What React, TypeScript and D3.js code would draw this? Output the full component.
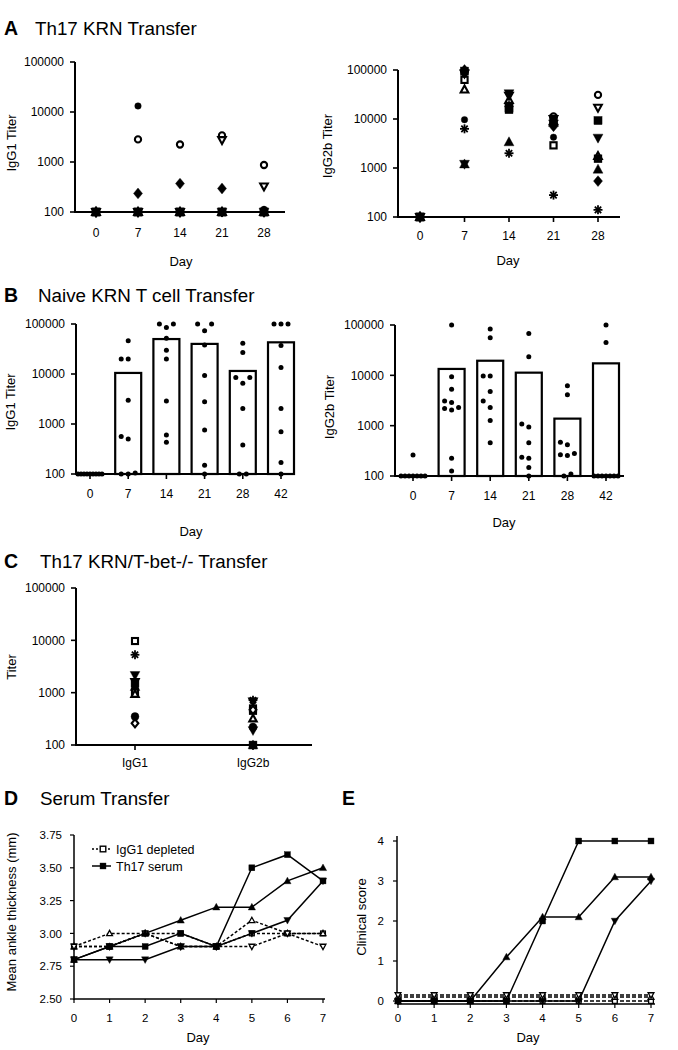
import React from 'react';
import * as d3 from 'd3';

const FONT = '"Liberation Sans", Arial, Helvetica, sans-serif';

type Sym = 'circle' | 'ocircle' | 'square' | 'osquare' | 'tri' | 'otri' | 'dtri' | 'odtri' | 'diamond' | 'odiamond' | 'star';

// ---------- Panel A: Th17 KRN Transfer (individual mice) ----------
const daysA = [0, 7, 14, 21, 28];
const symbolsA: Sym[] = ['ocircle', 'osquare', 'otri', 'odtri', 'circle', 'diamond', 'square', 'tri', 'dtri', 'star'];
const igg1A: number[][] = [
  [100, 2830, 2240, 3400, 870],   // ocircle
  [100, 100, 100, 100, 100],      // osquare
  [100, 100, 100, 100, 100],      // otri
  [100, 100, 100, 2750, 325],     // odtri
  [100, 13200, 100, 100, 113],    // circle
  [100, 235, 370, 295, 100],      // diamond
  [100, 100, 100, 100, 100],      // square
  [100, 100, 100, 100, 100],      // tri
  [100, 100, 100, 100, 100],      // dtri
  [100, 100, 100, 100, 100],      // star
];
const igg2bA: number[][] = [
  [100, 90000, 20000, 11300, 31000], // ocircle
  [100, 63000, 15500, 2900, 1550],   // osquare
  [100, 40000, 24500, 9000, 1750],   // otri
  [100, 85000, 30000, 10000, 17000], // odtri
  [100, 9700, 17000, 4250, 1600],    // circle
  [100, 100000, 18000, 7100, 540],   // diamond
  [100, 95000, 16700, 10000, 9300],  // square
  [100, 1200, 3400, 8500, 940],      // tri
  [100, 1200, 33000, 8000, 4100],    // dtri
  [100, 6300, 2000, 280, 140],       // star
];

// ---------- Panel B: Naive KRN T cell Transfer ----------
const daysB = ['0', '7', '14', '21', '28', '42'];
const barsB1 = [100, 10500, 50000, 40000, 11500, 43000];
const dotsB1: number[][] = [
  [100, 100, 100, 100, 100, 100, 100, 100, 100],
  [46000, 20000, 20000, 3000, 560, 500, 100, 100, 105],
  [100000, 85000, 100000, 52000, 30000, 20000, 2900, 600, 430],
  [100000, 100000, 73000, 38000, 9300, 2800, 760, 150, 100],
  [41000, 27000, 8500, 8500, 6500, 2050, 380, 100, 100],
  [100000, 100000, 100000, 37000, 13500, 2050, 700, 170, 100],
];
const barsB2 = [100, 13400, 19500, 11300, 1380, 17300];
const dotsB2: number[][] = [
  [260, 100, 100, 100, 100, 100, 100, 100],
  [100000, 9400, 5300, 3100, 2900, 2300, 2050, 2200, 225, 126],
  [83000, 56000, 9700, 9700, 4800, 3100, 2300, 1260, 460],
  [68000, 23400, 940, 1080, 460, 225, 235, 148, 100],
  [6200, 4100, 420, 470, 265, 255, 280, 110, 100],
  [100000, 45000, 100, 100, 100, 100, 100, 100, 100],
];

// ---------- Panel C: Th17 KRN/T-bet-/- Transfer ----------
const isotypesC = ['IgG1', 'IgG2b'];
const symbolsC: Sym[] = ['square', 'tri', 'circle', 'dtri', 'star', 'osquare', 'odtri', 'osquare', 'otri', 'odiamond'];
const igg1C = [1500, 1300, 350, 2150, 5300, 9700, 1600, 1040, 940, 260];
const igg2bC = [100, 100, 220, 190, 720, 500, 680, 450, 320, 470];

// ---------- Panel D: Serum transfer, ankle thickness ----------
const daysDE = [0, 1, 2, 3, 4, 5, 6, 7];
const ankleDepSquare = [2.9, 2.9, 3.0, 3.0, 2.9, 3.0, 3.0, 3.0];
const ankleDepTri = [2.9, 3.0, 3.0, 2.9, 2.9, 3.1, 3.0, 3.0];
const ankleDepDtri = [2.9, 2.9, 3.0, 2.9, 2.9, 2.9, 3.0, 2.9];
const ankleTh17Square = [2.8, 2.9, 2.9, 3.0, 2.9, 3.5, 3.6, 3.4];
const ankleTh17Tri = [2.8, 2.9, 3.0, 3.1, 3.2, 3.2, 3.4, 3.5];
const ankleTh17Dtri = [2.8, 2.8, 2.8, 2.9, 2.9, 3.0, 3.1, 3.4];
const ankleTicks = [2.5, 2.75, 3.0, 3.25, 3.5, 3.75];

// ---------- Panel E: Clinical score ----------
const scoreDepSquare = [0, 0, 0, 0, 0, 0, 0, 0];
const scoreDepTri = [0.1, 0.1, 0.1, 0.1, 0.1, 0.1, 0.1, 0.1];
const scoreDepDtri = [0.15, 0.15, 0.15, 0.15, 0.15, 0.15, 0.15, 0.15];
const scoreTh17Square = [0, 0, 0, 0, 2, 4, 4, 4];
const scoreTh17Tri = [0, 0, 0, 1.1, 2.1, 2.1, 3.1, 3.1];
const scoreTh17Dtri = [0, 0, 0, 0, 0, 0, 2, 3];
const scoreTicks = [0, 1, 2, 3, 4];

const titerTicks = [100, 1000, 10000, 100000];
const fmtInt = d3.format('d');

const TICK_FS = 12;
const LABEL_FS = 13;

function Marker({ sym, x, y, s = 4, sw = 1.8 }: { sym: Sym; x: number; y: number; s?: number; sw?: number }) {
  const open = sym.startsWith('o');
  const base = open ? sym.slice(1) : sym;
  const fill = open ? '#fff' : '#000';
  const st = open ? { stroke: '#000', strokeWidth: sw } : { stroke: '#000', strokeWidth: 0.4 };
  const r = open ? s - sw / 2 : s;
  switch (base) {
    case 'circle':
      return <circle cx={x} cy={y} r={r * 0.9} fill={fill} {...st} />;
    case 'square':
      return <rect x={x - r * 0.9} y={y - r * 0.9} width={r * 1.8} height={r * 1.8} fill={fill} {...st} />;
    case 'tri':
      return <polygon points={`${x},${y - r * 1.15} ${x - r * 1.1},${y + r * 0.85} ${x + r * 1.1},${y + r * 0.85}`} fill={fill} {...st} />;
    case 'dtri':
      return <polygon points={`${x},${y + r * 1.15} ${x - r * 1.1},${y - r * 0.85} ${x + r * 1.1},${y - r * 0.85}`} fill={fill} {...st} />;
    case 'diamond':
      return <polygon points={`${x},${y - r * 1.2} ${x + r},${y} ${x},${y + r * 1.2} ${x - r},${y}`} fill={fill} {...st} />;
    case 'star': {
      const angs = [0, 45, 90, 135];
      return (
        <g stroke="#000" strokeWidth={1.8}>
          {angs.map(a => {
            const rad = (a * Math.PI) / 180;
            const dx = Math.cos(rad) * s, dy = Math.sin(rad) * s;
            return <line key={a} x1={x - dx} y1={y - dy} x2={x + dx} y2={y + dy} />;
          })}
        </g>
      );
    }
  }
  return null;
}

type Tick = { v: number; label: string };

function Axes(p: {
  yAxisX: number; yTop: number; yBot: number;
  xAxisY: number; xLeft: number; xRight: number;
  yTicks: Tick[]; xTicks: Tick[];
  xLabelY: number; yLabelX: number; sw: number; fs: number; tick?: number;
}) {
  const t = p.tick ?? 5;
  return (
    <g fontSize={p.fs} fill="#000">
      <line x1={p.yAxisX} x2={p.yAxisX} y1={p.yTop} y2={p.yBot} stroke="#000" strokeWidth={p.sw} />
      <line x1={p.xLeft} x2={p.xRight} y1={p.xAxisY} y2={p.xAxisY} stroke="#000" strokeWidth={p.sw} />
      {p.yTicks.map((k, i) => (
        <g key={'y' + i}>
          <line x1={p.yAxisX - t} x2={p.yAxisX} y1={k.v} y2={k.v} stroke="#000" strokeWidth={p.sw * 0.8} />
          <text x={p.yLabelX} y={k.v} dy="0.36em" textAnchor="end">{k.label}</text>
        </g>
      ))}
      {p.xTicks.map((k, i) => (
        <g key={'x' + i}>
          <line x1={k.v} x2={k.v} y1={p.xAxisY} y2={p.xAxisY + t} stroke="#000" strokeWidth={p.sw * 0.8} />
          <text x={k.v} y={p.xLabelY} textAnchor="middle">{k.label}</text>
        </g>
      ))}
    </g>
  );
}

function VLabel({ x, y, text, fs = LABEL_FS }: { x: number; y: number; text: string; fs?: number }) {
  return (
    <text transform={`translate(${x},${y}) rotate(-90)`} textAnchor="middle" fontSize={fs}>{text}</text>
  );
}

function Title({ x, y, letter, text, tx }: { x: number; y: number; letter: string; text: string; tx: number }) {
  return (
    <g>
      <text x={x} y={y} fontSize={19.5} fontWeight="bold">{letter}</text>
      <text x={tx} y={y} fontSize={18.8}>{text}</text>
    </g>
  );
}

// simple beeswarm offsets
function swarm(values: number[], yf: (v: number) => number): number[] {
  const idx = values.map((_, i) => i).sort((a, b) => values[a] - values[b]);
  const offs = new Array(values.length).fill(0);
  const floorIdx = idx.filter(i => values[i] <= 110);
  const n = floorIdx.length;
  const sp = n > 1 ? Math.min(7, 24 / (n - 1)) : 0;
  floorIdx.forEach((i, k) => (offs[i] = (k - (n - 1) / 2) * sp));
  const placed: [number, number][] = floorIdx.map(i => [offs[i], yf(values[i])]);
  const cands = [0, -7, 7, -14, 14, -21, 21];
  for (const i of idx) {
    if (values[i] <= 110) continue;
    const y = yf(values[i]);
    for (const c of cands) {
      if (placed.every(([px, py]) => Math.hypot(px - c, py - y) >= 7)) {
        offs[i] = c;
        placed.push([c, y]);
        break;
      }
    }
  }
  return offs;
}

const drawPriority: Record<string, number> = {
  ocircle: 0, osquare: 0, otri: 0, odtri: 0, odiamond: 0,
  star: 1, diamond: 2, tri: 3, dtri: 4, square: 5, circle: 6,
};
function drawOrder(syms: Sym[]) {
  return syms.map((_, i) => i).sort((a, b) => drawPriority[syms[a]] - drawPriority[syms[b]]);
}

function ScatterA({ data, x, y }: { data: number[][]; x: d3.ScaleLinear<number, number>; y: d3.ScaleLogarithmic<number, number> }) {
  const order = drawOrder(symbolsA);
  return (
    <g>
      {order.map(m =>
        data[m].map((v, j) => (
          <Marker key={m + '-' + j} sym={symbolsA[m]} x={x(daysA[j])} y={y(v)} s={symbolsA[m] === 'circle' ? 3.6 : 4.5} sw={2.1} />
        ))
      )}
    </g>
  );
}

function BarsB({ bars, dots, x, y }: { bars: number[]; dots: number[][]; x: d3.ScalePoint<string>; y: d3.ScaleLogarithmic<number, number> }) {
  const bw = 26;
  return (
    <g>
      {bars.map((b, i) => (
        <rect key={'b' + i} x={(x(daysB[i]) as number) - bw / 2} y={y(b)} width={bw} height={y(100) - y(b)} fill="#fff" stroke="#000" strokeWidth={2.2} />
      ))}
      {dots.map((arr, i) => {
        const offs = swarm(arr, y);
        return arr.map((v, j) => (
          <circle key={i + '-' + j} cx={(x(daysB[i]) as number) + offs[j]} cy={y(v)} r={2.5} fill="#000" />
        ));
      })}
    </g>
  );
}

export default function App() {
  // Panel A scales
  const xA1 = d3.scaleLinear().domain([0, 28]).range([96, 264]);
  const yA1 = d3.scaleLog().domain([100, 100000]).range([212, 62]);
  const xA2 = d3.scaleLinear().domain([0, 28]).range([420, 598]);
  const yA2 = d3.scaleLog().domain([100, 100000]).range([217, 70]);
  // Panel B
  const xB1 = d3.scalePoint<string>().domain(daysB).range([90, 281]);
  const yB1 = d3.scaleLog().domain([100, 100000]).range([474, 324]);
  const xB2 = d3.scalePoint<string>().domain(daysB).range([413, 606]);
  const yB2 = d3.scaleLog().domain([100, 100000]).range([476, 325]);
  // Panel C
  const xC = d3.scalePoint<string>().domain(isotypesC).range([135, 253]);
  const yC = d3.scaleLog().domain([100, 100000]).range([745, 588]);
  // Panel D
  const xD = d3.scaleLinear().domain([0, 7]).range([74, 323]);
  const yD = d3.scaleLinear().domain([2.5, 3.75]).range([999, 835]);
  // Panel E
  const xE = d3.scaleLinear().domain([0, 7]).range([398, 651]);
  const yE = d3.scaleLinear().domain([0, 4]).range([1001, 841]);

  const logTicks = (y: (v: number) => number) => titerTicks.map(t => ({ v: y(t), label: fmtInt(t) }));

  const lineD = d3.line<number>().x((_, i) => xD(daysDE[i])).y(v => yD(v));
  const lineE = d3.line<number>().x((_, i) => xE(daysDE[i])).y(v => yE(v));

  const seriesD: { data: number[]; sym: Sym; dashed: boolean }[] = [
    { data: ankleDepSquare, sym: 'osquare', dashed: true },
    { data: ankleDepTri, sym: 'otri', dashed: true },
    { data: ankleDepDtri, sym: 'odtri', dashed: true },
    { data: ankleTh17Dtri, sym: 'dtri', dashed: false },
    { data: ankleTh17Tri, sym: 'tri', dashed: false },
    { data: ankleTh17Square, sym: 'square', dashed: false },
  ];
  const seriesE: { data: number[]; sym: Sym; dashed: boolean }[] = [
    { data: scoreDepSquare, sym: 'osquare', dashed: true },
    { data: scoreDepTri, sym: 'otri', dashed: true },
    { data: scoreDepDtri, sym: 'odtri', dashed: true },
    { data: scoreTh17Dtri, sym: 'dtri', dashed: false },
    { data: scoreTh17Tri, sym: 'tri', dashed: false },
    { data: scoreTh17Square, sym: 'square', dashed: false },
  ];

  const orderC = drawOrder(symbolsC);

  return (
    <svg width={678} height={1050} style={{ position: 'absolute', left: 0, top: 0 }} fontFamily={FONT}>
      <rect width={678} height={1050} fill="#fff" />

      {/* ---------- A ---------- */}
      <Title x={4} y={35} letter="A" text="Th17 KRN Transfer" tx={35} />
      <Axes yAxisX={75} yTop={62} yBot={213} xAxisY={212} xLeft={74} xRight={285}
        yTicks={logTicks(yA1)} xTicks={daysA.map(d => ({ v: xA1(d), label: String(d) }))}
        xLabelY={237} yLabelX={64} sw={2} fs={TICK_FS} />
      <ScatterA data={igg1A} x={xA1} y={yA1} />
      <text x={181} y={266} textAnchor="middle" fontSize={LABEL_FS}>Day</text>
      <VLabel x={16} y={143} text="IgG1 Titer" />

      <Axes yAxisX={398} yTop={70} yBot={218} xAxisY={217} xLeft={397} xRight={620}
        yTicks={logTicks(yA2)} xTicks={daysA.map(d => ({ v: xA2(d), label: String(d) }))}
        xLabelY={240} yLabelX={387} sw={2} fs={TICK_FS} />
      <ScatterA data={igg2bA} x={xA2} y={yA2} />
      <text x={508} y={265} textAnchor="middle" fontSize={LABEL_FS}>Day</text>
      <VLabel x={332} y={146} text="IgG2b Titer" />

      {/* ---------- B ---------- */}
      <Title x={4} y={302} letter="B" text="Naive KRN T cell Transfer" tx={38} />
      <BarsB bars={barsB1} dots={dotsB1} x={xB1} y={yB1} />
      <Axes yAxisX={76} yTop={324} yBot={475} xAxisY={474} xLeft={75} xRight={292}
        yTicks={logTicks(yB1)} xTicks={daysB.map(d => ({ v: xB1(d) as number, label: d }))}
        xLabelY={498} yLabelX={65} sw={2} fs={TICK_FS} />
      <text x={191} y={536} textAnchor="middle" fontSize={LABEL_FS}>Day</text>
      <VLabel x={15} y={402} text="IgG1 Titer" />

      <BarsB bars={barsB2} dots={dotsB2} x={xB2} y={yB2} />
      <Axes yAxisX={395} yTop={325} yBot={477} xAxisY={476} xLeft={394} xRight={624}
        yTicks={logTicks(yB2)} xTicks={daysB.map(d => ({ v: xB2(d) as number, label: d }))}
        xLabelY={500} yLabelX={384} sw={2} fs={TICK_FS} />
      <text x={504} y={527} textAnchor="middle" fontSize={LABEL_FS}>Day</text>
      <VLabel x={334} y={407} text="IgG2b Titer" />

      {/* ---------- C ---------- */}
      <Title x={4} y={568} letter="C" text="Th17 KRN/T-bet-/- Transfer" tx={40} />
      <Axes yAxisX={76} yTop={588} yBot={746} xAxisY={745} xLeft={75} xRight={312}
        yTicks={logTicks(yC)} xTicks={isotypesC.map(d => ({ v: xC(d) as number, label: d }))}
        xLabelY={767} yLabelX={65} sw={2} fs={TICK_FS} />
      {orderC.map(m => (
        <g key={'c' + m}>
          <Marker sym={symbolsC[m]} x={xC('IgG1') as number} y={yC(igg1C[m])} s={4.4} sw={2.1} />
          <Marker sym={symbolsC[m]} x={xC('IgG2b') as number} y={yC(igg2bC[m])} s={4.4} sw={2.1} />
        </g>
      ))}
      <VLabel x={16} y={667} text="Titer" />

      {/* ---------- D ---------- */}
      <Title x={4} y={805} letter="D" text="Serum Transfer" tx={40} />
      <Axes yAxisX={74} yTop={835} yBot={1000} xAxisY={999} xLeft={74} xRight={325}
        yTicks={ankleTicks.map(t => ({ v: yD(t), label: t.toFixed(2) }))}
        xTicks={daysDE.map(d => ({ v: xD(d), label: String(d) }))}
        xLabelY={1022} yLabelX={62} sw={1.5} fs={11.5} tick={4} />
      {seriesD.map((s, i) => (
        <path key={'dl' + i} d={lineD(s.data) || ''} fill="none" stroke="#000" strokeWidth={1.5} strokeDasharray={s.dashed ? '3,2' : undefined} />
      ))}
      {seriesD.map((s, i) => s.data.map((v, j) => (
        <Marker key={'dm' + i + '-' + j} sym={s.sym} x={xD(daysDE[j])} y={yD(v)} s={3.3} sw={1.3} />
      )))}
      <text x={198} y={1042} textAnchor="middle" fontSize={LABEL_FS}>Day</text>
      <VLabel x={16} y={912} text="Mean ankle thickness (mm)" />
      {/* legend */}
      <line x1={92} x2={111} y1={849} y2={849} stroke="#000" strokeWidth={1.4} strokeDasharray="2,2" />
      <Marker sym="osquare" x={103} y={849} s={3.8} sw={1.4} />
      <text x={116} y={853.5} fontSize={12.5}>IgG1 depleted</text>
      <line x1={92} x2={111} y1={866} y2={866} stroke="#000" strokeWidth={1.5} />
      <Marker sym="square" x={103} y={866} s={3.3} />
      <text x={116} y={870.5} fontSize={12.5}>Th17 serum</text>

      {/* ---------- E ---------- */}
      <text x={342} y={805} fontSize={19.5} fontWeight="bold">E</text>
      <Axes yAxisX={397} yTop={836} yBot={1004} xAxisY={1004} xLeft={397} xRight={655}
        yTicks={scoreTicks.map(t => ({ v: yE(t), label: String(t) }))}
        xTicks={daysDE.map(d => ({ v: xE(d), label: String(d) }))}
        xLabelY={1022} yLabelX={384} sw={1.5} fs={11.5} tick={4} />
      {seriesE.map((s, i) => (
        <path key={'el' + i} d={lineE(s.data) || ''} fill="none" stroke="#000" strokeWidth={1.5} strokeDasharray={s.dashed ? '4,2' : undefined} />
      ))}
      {seriesE.map((s, i) => s.data.map((v, j) => (
        <Marker key={'em' + i + '-' + j} sym={s.sym} x={xE(daysDE[j])} y={yE(v)} s={3.3} sw={1.3} />
      )))}
      <text x={528} y={1042} textAnchor="middle" fontSize={LABEL_FS}>Day</text>
      <VLabel x={366} y={917} text="Clinical score" />
    </svg>
  );
}
